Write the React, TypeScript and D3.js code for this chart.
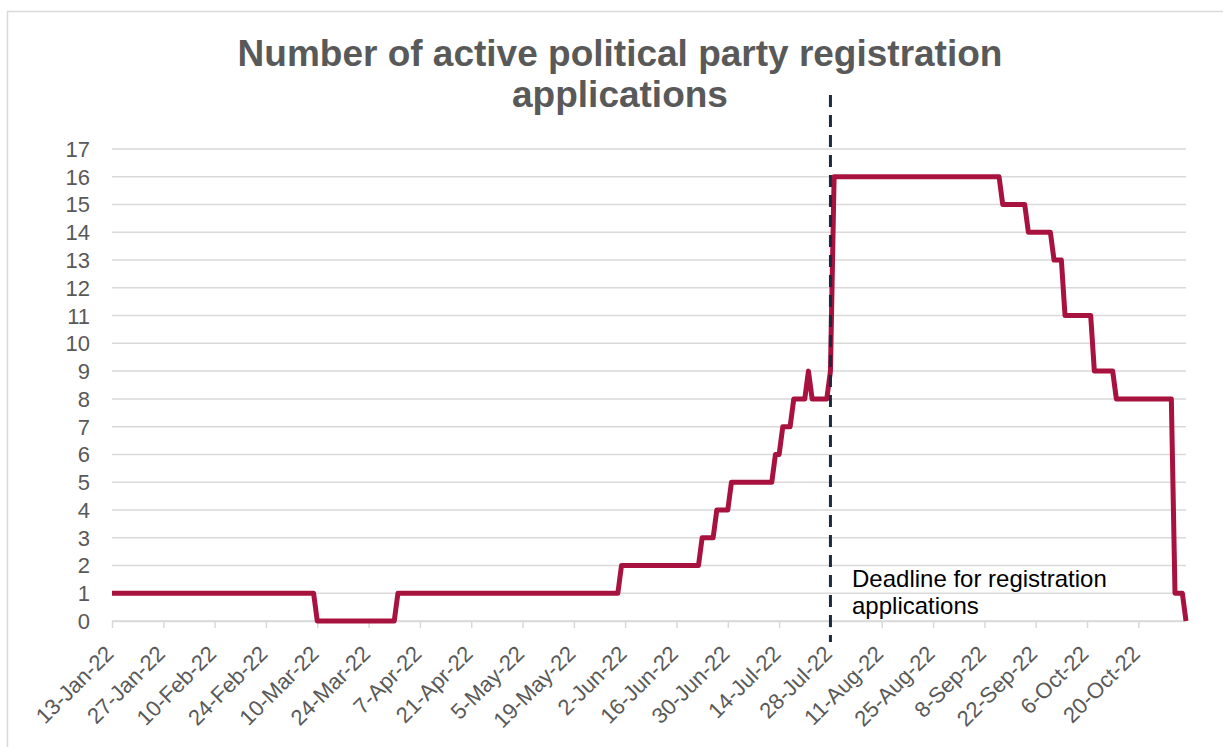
import React, { useEffect, useRef } from 'react';
import * as d3 from 'd3';

// change points of the step series (first and last day of each level)
const dates = [
  '2022-01-13', '2022-03-09', '2022-03-10', '2022-03-31', '2022-04-01', '2022-05-31',
  '2022-06-01', '2022-06-22', '2022-06-23', '2022-06-26', '2022-06-27', '2022-06-30',
  '2022-07-01', '2022-07-12', '2022-07-13', '2022-07-14', '2022-07-15', '2022-07-17',
  '2022-07-18', '2022-07-21', '2022-07-22', '2022-07-23', '2022-07-27', '2022-07-28',
  '2022-07-29', '2022-09-12', '2022-09-13', '2022-09-19', '2022-09-20', '2022-09-26',
  '2022-09-27', '2022-09-29', '2022-09-30', '2022-10-07', '2022-10-08', '2022-10-13',
  '2022-10-14', '2022-10-29', '2022-10-30', '2022-11-01', '2022-11-02'
];
const values = [
  1, 1, 0, 0, 1, 1,
  2, 2, 3, 3, 4, 4,
  5, 5, 6, 6, 7, 7,
  8, 8, 9, 8, 8, 9,
  16, 16, 15, 15, 14, 14,
  13, 13, 11, 11, 9, 9,
  8, 8, 1, 1, 0
];

const tickDates = [
  '2022-01-13', '2022-01-27', '2022-02-10', '2022-02-24', '2022-03-10', '2022-03-24',
  '2022-04-07', '2022-04-21', '2022-05-05', '2022-05-19', '2022-06-02', '2022-06-16',
  '2022-06-30', '2022-07-14', '2022-07-28', '2022-08-11', '2022-08-25', '2022-09-08',
  '2022-09-22', '2022-10-06', '2022-10-20'
];
const yTicks = [0, 1, 2, 3, 4, 5, 6, 7, 8, 9, 10, 11, 12, 13, 14, 15, 16, 17];

const domainStart = '2022-01-13';
const domainEnd = '2022-11-02';
const deadlineDate = '2022-07-28';
const titleLines = ['Number of active political party registration', 'applications'];
const noteLines = ['Deadline for registration', 'applications'];

const W = 1223;
const H = 747;

const App: React.FC = () => {
  const svgRef = useRef<SVGSVGElement>(null);

  useEffect(() => {
    if (!svgRef.current) return;
    const svg = d3.select(svgRef.current);
    svg.selectAll('*').remove();

    const parse = d3.utcParse('%Y-%m-%d');
    const font = '"Liberation Sans", Arial, sans-serif';
    const grey = '#595959';
    const gridColor = '#d9d9d9';

    const x = d3.scaleUtc()
      .domain([parse(domainStart)!, parse(domainEnd)!])
      .range([112, 1186]);

    const y = d3.scaleLinear()
      .domain([0, 17])
      .range([621, 149]);

    // outer border
    svg.append('rect')
      .attr('x', 7.5)
      .attr('y', 11.5)
      .attr('width', W)
      .attr('height', H)
      .attr('fill', '#fff')
      .attr('stroke', gridColor)
      .attr('stroke-width', 1.5);

    // title
    svg.append('text')
      .attr('x', 620)
      .attr('text-anchor', 'middle')
      .attr('fill', grey)
      .style('font-family', font)
      .style('font-size', '37px')
      .style('font-weight', 'bold')
      .selectAll('tspan')
      .data(titleLines)
      .enter()
      .append('tspan')
      .attr('x', 620)
      .attr('y', (d, i) => 66 + i * 41)
      .text(d => d);

    // gridlines
    svg.append('g')
      .selectAll('line')
      .data(yTicks)
      .enter()
      .append('line')
      .attr('x1', x.range()[0])
      .attr('x2', x.range()[1])
      .attr('y1', d => y(d))
      .attr('y2', d => y(d))
      .attr('stroke', gridColor)
      .attr('stroke-width', 1.5);

    // y labels
    svg.append('g')
      .selectAll('text')
      .data(yTicks)
      .enter()
      .append('text')
      .attr('x', 90)
      .attr('y', d => y(d))
      .attr('dy', '0.36em')
      .attr('text-anchor', 'end')
      .attr('fill', grey)
      .style('font-family', font)
      .style('font-size', '22px')
      .text(d => d);

    // x axis
    const xTickDates = tickDates.map(d => parse(d)!);
    const fmt = d3.utcFormat('%-d-%b-%y');
    const xAxis = svg.append('g')
      .attr('transform', `translate(0,${y(0)})`)
      .call(d3.axisBottom(x).tickValues(xTickDates).tickSize(7).tickSizeOuter(0).tickFormat(() => ''));
    xAxis.select('.domain').attr('stroke', gridColor).attr('stroke-width', 1.5);
    xAxis.selectAll('.tick line').attr('stroke', gridColor).attr('stroke-width', 1.5);

    svg.append('g')
      .selectAll('text')
      .data(xTickDates)
      .enter()
      .append('text')
      .attr('transform', d => `translate(${x(d) + 3},${y(0) + 34}) rotate(-45)`)
      .attr('text-anchor', 'end')
      .attr('fill', grey)
      .style('font-family', font)
      .style('font-size', '22px')
      .text(d => fmt(d));

    // series
    const pts = dates.map((d, i) => ({ date: parse(d)!, value: values[i] }));
    const line = d3.line<{ date: Date; value: number }>()
      .x(d => x(d.date))
      .y(d => y(d.value));

    svg.append('path')
      .datum(pts)
      .attr('fill', 'none')
      .attr('stroke', '#a8123e')
      .attr('stroke-width', 5)
      .attr('stroke-linejoin', 'round')
      .attr('d', line);

    // deadline marker, drawn over the series
    const dx = x(parse(deadlineDate)!);
    svg.append('line')
      .attr('x1', dx)
      .attr('x2', dx)
      .attr('y1', 95)
      .attr('y2', 642)
      .attr('stroke', '#1b2a3c')
      .attr('stroke-width', 3)
      .attr('stroke-dasharray', '12,8');

    // annotation
    svg.append('text')
      .attr('fill', '#000')
      .style('font-family', font)
      .style('font-size', '24px')
      .selectAll('tspan')
      .data(noteLines)
      .enter()
      .append('tspan')
      .attr('x', 852)
      .attr('y', (d, i) => 587 + i * 27)
      .text(d => d);
  }, []);

  return (
    <svg
      ref={svgRef}
      width={W}
      height={H}
      style={{ position: 'absolute', left: 0, top: 0, display: 'block', background: '#fff' }}
    />
  );
};

export default App;
